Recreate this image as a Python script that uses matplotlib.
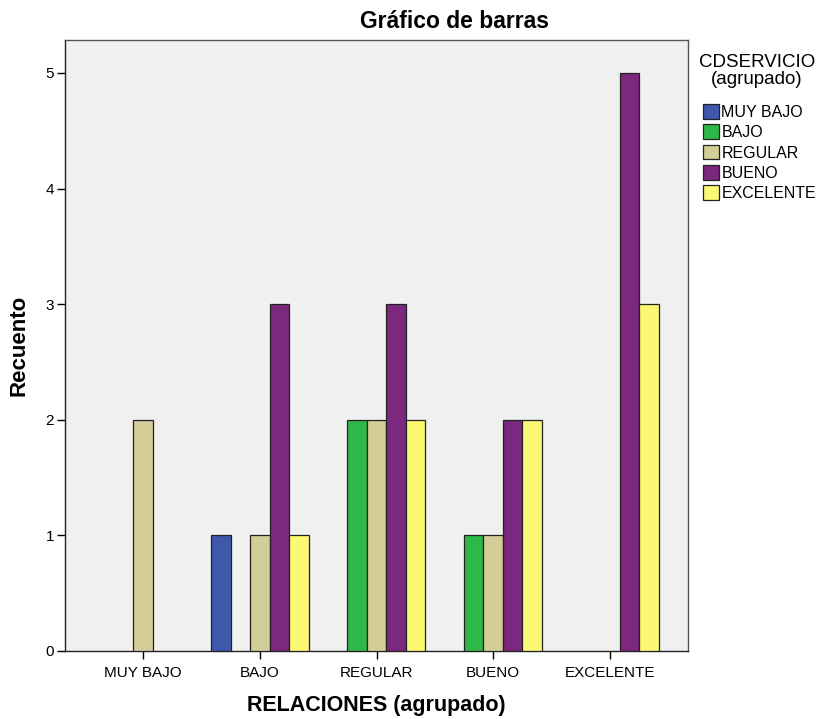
import matplotlib
matplotlib.use('Agg')
import matplotlib.pyplot as plt
import numpy as np

plt.rcParams['font.family'] = ['Liberation Sans Narrow', 'Liberation Sans', 'DejaVu Sans']

categorias = ['MUY BAJO', 'BAJO', 'REGULAR', 'BUENO', 'EXCELENTE']
series = ['MUY BAJO', 'BAJO', 'REGULAR', 'BUENO', 'EXCELENTE']
colores = ['#3e58ac', '#2eb848', '#d3ce97', '#7b287e', '#fbf873']

# recuento por serie (CDSERVICIO) en cada categoria de RELACIONES
muy_bajo = [0, 1, 0, 0, 0]
bajo = [0, 0, 2, 1, 0]
regular = [2, 1, 2, 1, 0]
bueno = [0, 3, 3, 2, 5]
excelente = [0, 1, 2, 2, 3]
valores = [muy_bajo, bajo, regular, bueno, excelente]

fig = plt.figure(figsize=(8.2, 7.19), dpi=100)
ax = fig.add_axes([65/820, 1-651/719, (688-65)/820, (651-40)/719])
ax.set_facecolor('#f0f0f0')

x = np.arange(len(categorias))
w = 0.167
for i, (nombre, vals) in enumerate(zip(series, valores)):
    v = np.array(vals, dtype=float)
    m = v > 0
    ax.bar(x[m] + (i - 2) * w, v[m], width=w, color=colores[i],
           edgecolor='#222222', linewidth=0.9, label=nombre, zorder=3)

ax.set_xlim(-0.67, 4.67)
ax.set_ylim(0, 5.285)
ax.set_xticks(x)
ax.set_xticklabels(categorias, fontsize=11)
ax.set_yticks(range(6))
ax.tick_params(axis='y', labelsize=11, length=6, width=1, pad=2)
ax.tick_params(axis='x', length=6, width=1, pad=5)
for s in ax.spines.values():
    s.set_color('#555555')
    s.set_linewidth(1)
ax.spines['left'].set_color('#222222')
ax.spines['bottom'].set_color('#222222')

ax.set_xlabel('RELACIONES (agrupado)', fontsize=15.5, fontweight='bold', va='center')
ax.xaxis.set_label_coords(0.5, -(706-651)/611)
ax.set_ylabel('Recuento', fontsize=16, fontweight='bold', va='center')
ax.yaxis.set_label_coords(-(65-19)/623, 0.5)
fig.text(455/820, 1-22/719, 'Gráfico de barras', fontsize=16.5, fontweight='bold',
         ha='center', va='center')

# titulo de la leyenda aparte para controlar el espacio
fig.text(757/820, 1-71/719, 'CDSERVICIO\n(agrupado)', fontsize=13.5,
         ha='center', va='center', multialignment='center', linespacing=1.05)
leg = ax.legend(loc='upper left', bbox_to_anchor=(703/820, 1-104/719),
                bbox_transform=fig.transFigure, frameon=False, fontsize=11.5,
                handlelength=1.0, handleheight=1.05, handletextpad=0.15,
                labelspacing=0.28, borderaxespad=0, borderpad=0)

fig.savefig('out.png', dpi=100)
